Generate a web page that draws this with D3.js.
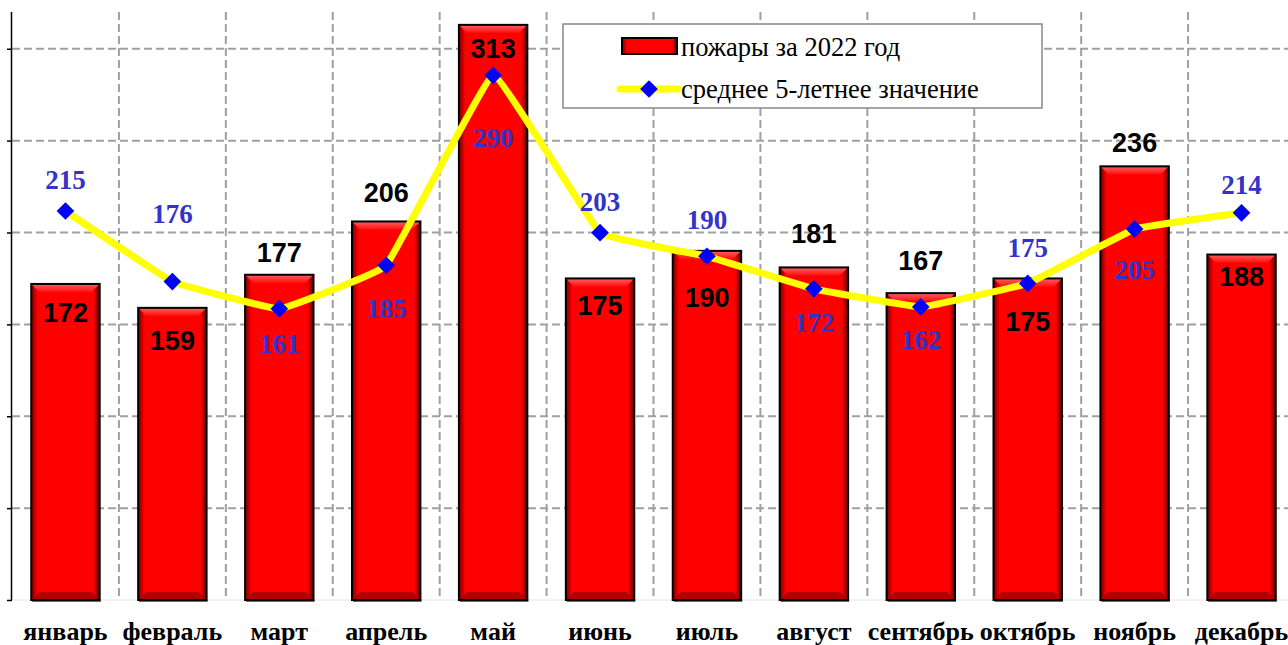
<!DOCTYPE html>
<html>
<head>
<meta charset="utf-8">
<script src="https://cdn.jsdelivr.net/npm/d3@7"></script>
<style>
  body { margin: 0; background: #fff; }
  svg { display: block; }
</style>
</head>
<body>
<svg id="chart" width="1288" height="645"></svg>
<script>
// data
var months = ["январь", "февраль", "март", "апрель", "май", "июнь",
              "июль", "август", "сентябрь", "октябрь", "ноябрь", "декабрь"];
var fires2022 = [172, 159, 177, 206, 313, 175, 190, 181, 167, 175, 236, 188];
var avg5y = [215, 176, 161, 185, 290, 203, 190, 172, 162, 175, 205, 214];
var yTicks = [0, 50, 100, 150, 200, 250, 300];
var seriesNames = ["пожары за 2022 год", "среднее 5-летнее значение"];

// label placement (px from bar top / marker), picked to avoid overlaps
var barLabelDy = [29, 33, -22, -28, 24, 28, 47, -33, -32, 44, -23, 22];
var lineLabelDy = [-31, -68, 35, 44, 63, -31, -36, 34, 33, -35, 41, -28];

var svg = d3.select("#chart");
var pLeft = 12, pTop = 12, pBottom = 600, pRight = 1295;

var x = d3.scaleBand().domain(months).range([pLeft, pRight]).padding(0);
var y = d3.scaleLinear().domain([0, 320]).range([pBottom, pTop]);
var y2 = d3.scaleLinear().domain([0, 325]).range([pBottom, pTop]); // line sits on its own axis
var bw = x.bandwidth();
var barW = bw * 0.64;
function cx(m) { return x(m) + bw / 2; }

var defs = svg.append("defs");
var side = defs.append("linearGradient").attr("id", "side");
side.append("stop").attr("offset", "0%").attr("stop-color", "#700000");
side.append("stop").attr("offset", "9%").attr("stop-color", "#ff0000");
side.append("stop").attr("offset", "91%").attr("stop-color", "#ff0000");
side.append("stop").attr("offset", "100%").attr("stop-color", "#600000");
var topG = defs.append("linearGradient").attr("id", "topg").attr("x1", 0).attr("x2", 0).attr("y1", 0).attr("y2", 1);
topG.append("stop").attr("offset", "0%").attr("stop-color", "#ff6060");
topG.append("stop").attr("offset", "100%").attr("stop-color", "#ff1010");

// grid
var grid = svg.append("g").attr("stroke", "#a0a0a0").attr("stroke-width", 2)
  .attr("stroke-dasharray", "8,4");
grid.selectAll("line.h").data(yTicks.filter(function(t) { return t > 0; }))
  .enter().append("line").attr("class", "h")
  .attr("x1", pLeft).attr("x2", 1288)
  .attr("y1", function(d) { return y(d); }).attr("y2", function(d) { return y(d); });
grid.selectAll("line.v").data(months.slice(1))
  .enter().append("line").attr("class", "v")
  .attr("x1", function(d) { return x(d); }).attr("x2", function(d) { return x(d); })
  .attr("y1", pTop).attr("y2", pBottom);

svg.append("line").attr("x1", pLeft).attr("x2", 1288).attr("y1", pBottom).attr("y2", pBottom)
  .attr("stroke", "#e4e4e4").attr("stroke-width", 1);

// y axis, no labels
var yAxis = d3.axisLeft(y).tickValues(yTicks).tickSize(5).tickFormat("");
var ya = svg.append("g").attr("transform", "translate(" + pLeft + ",0)").call(yAxis);
ya.select(".domain").attr("d", "M-0.5," + pTop + "V" + pBottom).attr("stroke", "#000").attr("stroke-width", 1.5);
ya.selectAll(".tick line").attr("stroke", "#000").attr("stroke-width", 1.5);

// bars
var bars = svg.append("g");
var bar = bars.selectAll("g").data(months).enter().append("g");
bar.append("rect")
  .attr("x", function(d) { return cx(d) - barW / 2 + 1; })
  .attr("y", pBottom - 1).attr("width", barW).attr("height", 3)
  .attr("fill", "#666");
bar.append("rect")
  .attr("x", function(d) { return cx(d) - barW / 2; })
  .attr("y", function(d, i) { return y(fires2022[i]); })
  .attr("width", barW)
  .attr("height", function(d, i) { return pBottom - y(fires2022[i]); })
  .attr("fill", "url(#side)");
var bev = 8;
bar.append("path")
  .attr("d", function(d, i) {
    var x0 = cx(d) - barW / 2, x1 = cx(d) + barW / 2, t = y(fires2022[i]);
    return "M" + x0 + "," + t + "L" + x1 + "," + t + "L" + (x1 - bev) + "," + (t + bev) +
      "L" + (x0 + bev) + "," + (t + bev) + "Z";
  })
  .attr("fill", "url(#topg)");
bar.append("path")
  .attr("d", function(d) {
    var x0 = cx(d) - barW / 2, x1 = cx(d) + barW / 2;
    return "M" + x0 + "," + pBottom + "L" + x1 + "," + pBottom + "L" + (x1 - bev) + "," + (pBottom - bev) +
      "L" + (x0 + bev) + "," + (pBottom - bev) + "Z";
  })
  .attr("fill", "#b00000");
bar.append("rect")
  .attr("x", function(d) { return cx(d) - barW / 2; })
  .attr("y", function(d, i) { return y(fires2022[i]); })
  .attr("width", barW)
  .attr("height", function(d, i) { return pBottom - y(fires2022[i]); })
  .attr("fill", "none").attr("stroke", "#000").attr("stroke-width", 2);

// average line
var line = d3.line()
  .x(function(d, i) { return cx(months[i]); })
  .y(function(d) { return y2(d); })
  .curve(d3.curveCardinal.tension(0.8));
svg.append("path").datum(avg5y).attr("d", line)
  .attr("fill", "none").attr("stroke", "#ffff00").attr("stroke-width", 7)
  .attr("stroke-linejoin", "round");

var diamond = d3.symbol().type(d3.symbolDiamond2).size(200);
svg.append("g").selectAll("path").data(avg5y).enter().append("path")
  .attr("d", diamond)
  .attr("transform", function(d, i) { return "translate(" + cx(months[i]) + "," + y2(d) + ")"; })
  .attr("fill", "#0000ff");

// value labels
svg.append("g").selectAll("text").data(fires2022).enter().append("text")
  .attr("x", function(d, i) { return cx(months[i]); })
  .attr("y", function(d, i) { return y(d) + barLabelDy[i]; })
  .attr("text-anchor", "middle").attr("dominant-baseline", "central")
  .attr("font-family", "Liberation Sans, Arial, sans-serif")
  .attr("font-weight", "bold").attr("font-size", 27).attr("fill", "#000")
  .text(function(d) { return d; });

svg.append("g").selectAll("text").data(avg5y).enter().append("text")
  .attr("x", function(d, i) { return cx(months[i]); })
  .attr("y", function(d, i) { return y2(d) + lineLabelDy[i]; })
  .attr("text-anchor", "middle").attr("dominant-baseline", "central")
  .attr("font-family", "Liberation Serif, Times New Roman, serif")
  .attr("font-weight", "bold").attr("font-size", 27).attr("fill", "#3333cc")
  .text(function(d) { return d; });

// month labels
svg.append("g").selectAll("text").data(months).enter().append("text")
  .attr("x", function(d) { return cx(d); })
  .attr("y", 640)
  .attr("text-anchor", "middle")
  .attr("font-family", "Liberation Serif, Times New Roman, serif")
  .attr("font-weight", "bold").attr("font-size", 26).attr("fill", "#000")
  .text(function(d) { return d; });

// legend
var lg = svg.append("g");
lg.append("rect").attr("x", 563).attr("y", 24).attr("width", 479).attr("height", 84)
  .attr("fill", "#fff").attr("stroke", "#888").attr("stroke-width", 1.5);
lg.append("rect").attr("x", 622).attr("y", 38).attr("width", 55).attr("height", 16)
  .attr("fill", "url(#side)").attr("stroke", "#000").attr("stroke-width", 2);
lg.append("line").attr("x1", 620).attr("x2", 678).attr("y1", 89).attr("y2", 89)
  .attr("stroke", "#ffff00").attr("stroke-width", 7).attr("stroke-linecap", "round");
lg.append("path").attr("d", diamond).attr("transform", "translate(649,89)").attr("fill", "#0000ff");
lg.selectAll("text").data(seriesNames).enter().append("text")
  .attr("x", 681).attr("y", function(d, i) { return i === 0 ? 47 : 89; })
  .attr("dominant-baseline", "central")
  .attr("font-family", "Liberation Serif, Times New Roman, serif")
  .attr("font-size", 26.5).attr("fill", "#000")
  .text(function(d) { return d; });
</script>
</body>
</html>
